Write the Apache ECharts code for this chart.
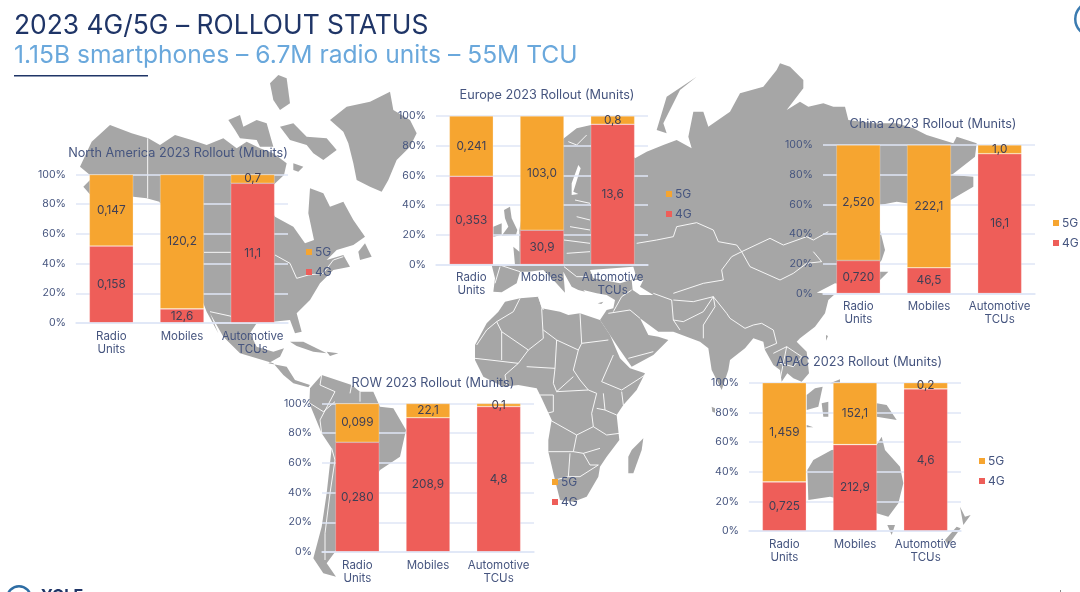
<!DOCTYPE html>
<html><head><meta charset="utf-8">
<style>html,body{margin:0;padding:0;background:#fff}#c{width:1080px;height:592px}</style>
<script src="https://cdn.jsdelivr.net/npm/echarts@6/dist/echarts.min.js"></script>
</head><body><div id="c"></div>
<script>
// ---------- chart data (Munits) ----------
const categories = ['Radio\nUnits', 'Mobiles', 'Automotive\nTCUs'];
const percentTicks = [0, 20, 40, 60, 80, 100];
const legendNames = ['5G', '4G'];
const mainTitle = '2023 4G/5G – ROLLOUT STATUS';
const subTitle = '1.15B smartphones – 6.7M radio units – 55M TCU';

const naTitle = 'North America 2023 Rollout (Munits)';
const na4G = [0.158, 12.6, 11.1];
const na5G = [0.147, 120.2, 0.7];
const na4GText = ['0,158', '12,6', '11,1'];
const na5GText = ['0,147', '120,2', '0,7'];

const euTitle = 'Europe 2023 Rollout (Munits)';
const eu4G = [0.353, 30.9, 13.6];
const eu5G = [0.241, 103.0, 0.8];
const eu4GText = ['0,353', '30,9', '13,6'];
const eu5GText = ['0,241', '103,0', '0,8'];

const cnTitle = 'China 2023 Rollout (Munits)';
const cn4G = [0.720, 46.5, 16.1];
const cn5G = [2.520, 222.1, 1.0];
const cn4GText = ['0,720', '46,5', '16,1'];
const cn5GText = ['2,520', '222,1', '1,0'];

const rowTitle = 'ROW 2023 Rollout (Munits)';
const row4G = [0.280, 208.9, 4.8];
const row5G = [0.099, 22.1, 0.1];
const row4GText = ['0,280', '208,9', '4,8'];
const row5GText = ['0,099', '22,1', '0,1'];

const apacTitle = 'APAC 2023 Rollout (Munits)';
const apac4G = [0.725, 212.9, 4.6];
const apac5G = [1.459, 152.1, 0.2];
const apac4GText = ['0,725', '212,9', '4,6'];
const apac5GText = ['1,459', '152,1', '0,2'];

// ---------- panel layout ----------
const panels = [
  {title: naTitle,   v4: na4G,   v5: na5G,   t4: na4GText,   t5: na5GText,   left: 76,  top: 174.5, tx: 178, ty: 147, lx: 306,  ly: 246},
  {title: euTitle,   v4: eu4G,   v5: eu5G,   t4: eu4GText,   t5: eu5GText,   left: 436, top: 116,   tx: 547, ty: 89,  lx: 666,  ly: 188},
  {title: cnTitle,   v4: cn4G,   v5: cn5G,   t4: cn4GText,   t5: cn5GText,   left: 823, top: 145,   tx: 933, ty: 118, lx: 1053, ly: 217},
  {title: rowTitle,  v4: row4G,  v5: row5G,  t4: row4GText,  t5: row5GText,  left: 322, top: 403.5, tx: 433, ty: 377, lx: 552,  ly: 476},
  {title: apacTitle, v4: apac4G, v5: apac5G, t4: apac4GText, t5: apac5GText, left: 749, top: 382.7, tx: 859, ty: 356, lx: 979,  ly: 455}
];
const panelW = 212, panelH = 148.5;

// ---------- decorative world map backdrop ----------
const at = (ox, oy, pts) => pts.map(p => [p[0] / 3 + ox, p[1] / 3 + oy]);
const Z7 = p => at(60, 70, p), Z8 = p => at(430, 70, p), Z9 = p => at(440, 280, p),
      Z4 = p => at(780, 0, p), Z10 = p => at(280, 360, p), Z11 = p => at(700, 270, p);

const land = [
  // North America
  Z7([[60,290],[95,215],[150,165],[215,190],[265,205],[300,225],[345,195],[395,210],[440,225],[490,205],[530,235],[560,215],[600,235],[640,250],[680,280],[672,315],[640,345],[620,400],[645,440],[700,470],[735,520],[762,510],[745,430],[750,355],[790,370],[810,410],[850,395],[880,450],[915,500],[880,525],[830,540],[800,570],[850,555],[870,590],[820,600],[780,640],[750,690],[710,730],[725,785],[705,790],[690,750],[640,755],[590,760],[570,790],[590,830],[640,845],[672,835],[660,860],[625,880],[680,890],[705,930],[750,945],[745,952],[700,940],[670,915],[640,880],[590,865],[540,850],[490,800],[450,730],[475,790],[440,725],[430,700],[380,560],[298,395],[260,385],[220,380],[140,380],[100,385],[70,350],[90,330],[90,315]]),
  Z7([[630,40],[655,15],[680,25],[690,100],[660,120],[640,90]]),
  Z7([[505,150],[540,135],[550,170],[590,150],[620,160],[640,230],[600,230],[590,210],[540,205],[525,180]]),
  Z7([[660,170],[700,160],[740,200],[800,205],[830,240],[790,270],[760,250],[740,225],[690,210]]),
  Z7([[700,280],[730,290],[715,305],[700,300]]),
  Z7([[810,150],[860,110],[930,95],[990,65],[1000,120],[1050,150],[1070,190],[1050,230],[1010,270],[985,330],[965,365],[930,350],[890,330],[880,280],[865,220],[850,185]]),
  Z7([[895,545],[915,520],[935,560],[900,570]]),
  Z7([[690,815],[730,815],[800,850],[760,845],[710,828]]),
  Z7([[800,845],[835,850],[810,858]]),
  // South America
  Z10([[90,85],[125,45],[170,60],[215,75],[240,95],[280,95],[300,140],[340,145],[378,210],[360,290],[300,330],[200,500],[165,576],[140,610],[168,650],[130,640],[100,595],[125,500],[140,400],[155,265],[125,220],[88,130]]),
  // Eurasia
  [].concat(
    Z8([[402,205],[440,175],[483,165],[560,190],[615,265],[650,245],[700,225],[740,210],[785,235],[775,200],[790,125],[820,125],[835,170],[900,125],[930,70],[1000,50],[1040,0]]),
    Z4([[0,190],[30,200],[70,240],[70,265],[20,330],[60,305],[85,320],[130,310],[160,320],[195,320],[205,360],[280,370],[350,370],[400,385],[440,405],[520,430],[530,410],[590,430],[585,470],[515,525],[580,530],[580,560],[512,600],[380,610],[350,605],[300,615],[300,690],[315,750],[305,780],[298,790],[300,815],[325,815],[300,840],[290,870]]),
    Z11([[405,40],[350,68],[405,72],[385,90],[375,130],[345,170],[300,205],[290,215],[320,245],[327,310],[305,335],[280,325],[262,310],[245,335],[240,300],[220,285],[195,240],[190,215],[160,205]]),
    Z9([[915,205],[870,240],[865,270],[845,330],[815,270],[805,205],[780,185],[700,155],[655,155],[600,115],[625,165],[655,170],[685,180],[640,225],[575,260],[540,210],[510,165],[480,120],[500,90],[520,85],[525,60],[500,45],[470,40],[430,30]]),
    Z8([[465,665],[445,660],[425,650],[400,605],[405,668],[375,635],[340,600],[295,605],[270,605],[260,640],[215,667],[190,665],[195,625],[185,585],[255,585],[250,530],[268,545],[268,480],[300,300]])
  ),
  Z8([[680,180],[710,80],[800,20],[750,60],[700,160],[710,190]]),
  Z8([[222,420],[240,410],[245,445],[262,480],[258,495],[215,497],[235,470],[225,445]]),
  Z8([[190,470],[215,460],[215,495],[190,500]]),
  // Africa
  Z9([[195,65],[240,55],[295,50],[305,85],[360,95],[385,105],[420,100],[480,120],[510,165],[540,235],[570,265],[615,280],[590,330],[550,375],[530,405],[538,480],[500,530],[480,560],[475,590],[440,650],[400,665],[360,660],[345,600],[325,515],[325,480],[335,420],[305,355],[290,325],[235,315],[190,320],[130,290],[105,240],[105,195],[140,130],[175,95]]),
  Z9([[610,475],[605,510],[580,580],[565,580],[565,530],[575,510]]),
  Z9([[815,380],[825,385],[825,398],[817,395]]),
  Z9([[473,70],[490,65],[484,72]]),
  // Oceania and islands
  Z11([[320,375],[345,355],[368,350],[355,410],[320,420]]),
  Z11([[365,400],[385,395],[385,440],[370,440]]),
  Z11([[390,340],[420,328],[420,345]]),
  Z11([[530,400],[560,405],[590,450],[530,440]]),
  Z11([[320,465],[340,472],[320,472]]),
  Z11([[322,600],[340,570],[395,540],[530,525],[545,500],[555,540],[600,590],[610,640],[595,700],[565,740],[530,730],[470,700],[390,680],[325,690]]),
  Z11([[562,765],[585,765],[575,795]]),
  Z11([[780,710],[795,740],[812,735],[790,765]]),
  Z11([[770,770],[782,775],[745,825],[735,810]]),
  Z11([[378,195],[384,198],[378,212]])
];
const water = [
  Z8([[425,340],[445,285],[452,295],[430,365],[445,372],[425,375]]),
  Z8([[480,600],[610,590],[620,625],[570,640],[490,625]]),
  Z9([[575,0],[610,0],[600,20],[640,45],[600,45],[578,30]])
];
const borders = [
  Z7([[432,547],[512,547]]), Z7([[645,555],[690,580],[710,625],[745,615],[790,610],[820,570],[850,560]]),
  Z7([[263,205],[263,385]]), Z7([[450,725],[510,738],[570,760]]),
  Z8([[620,520],[680,510],[730,500],[740,470],[800,458],[850,480],[865,515],[920,525],[935,545],[1020,505],[1060,525],[1130,500],[1150,510],[1195,485]]),
  Z8([[935,545],[960,590],[1050,630],[1090,610],[1130,580],[1175,575],[1150,545]]),
  Z8([[875,600],[905,560],[935,545]]), Z8([[875,600],[880,630],[820,640],[730,670]]),
  Z8([[415,215],[440,225],[470,195]]), Z8([[435,390],[480,400]]), Z8([[420,470],[480,480]]),
  Z8([[402,510],[480,520]]), Z8([[410,550],[480,545]]), Z8([[402,590],[440,620],[470,620]]),
  Z8([[440,440],[480,450]]), Z8([[210,590],[195,640]]), Z8([[200,582],[270,605]]),
  Z9([[700,60],[760,65],[820,50],[790,95],[730,125],[700,120]]), Z9([[640,40],[695,60],[700,120],[720,150]]),
  Z9([[820,50],[860,100],[870,115],[915,145],[940,135],[965,130],[1000,150],[1010,190],[975,205]]),
  Z9([[820,50],[825,80],[790,135],[790,175]]), Z9([[505,100],[570,90],[600,115]]), Z9([[520,95],[545,50],[575,30]]),
  Z9([[565,235],[640,215]]), Z9([[1000,220],[1040,200],[1085,230],[1060,260],[1020,250]]), Z9([[1040,200],[1020,300]]),
  Z9([[240,55],[220,95],[170,125],[185,155],[265,210],[310,175],[305,85]]), Z9([[170,125],[140,150],[110,195]]),
  Z9([[310,150],[350,180],[415,210],[425,190],[420,100]]), Z9([[425,190],[505,180]]),
  Z9([[350,180],[345,265],[340,310],[350,335]]), Z9([[415,210],[400,270],[420,300],[445,330],[470,340]]),
  Z9([[520,225],[485,305],[545,330],[615,285]]), Z9([[265,210],[235,250],[150,240],[105,235]]),
  Z9([[185,155],[185,240]]), Z9([[235,250],[195,285],[200,315]]), Z9([[260,260],[345,265]]),
  Z9([[350,335],[400,290]]), Z9([[350,335],[445,330]]), Z9([[470,340],[455,400],[460,440],[410,465],[330,420]]),
  Z9([[490,340],[495,390],[470,385]]), Z9([[545,335],[550,375]]), Z9([[495,390],[530,405]]),
  Z9([[460,440],[500,465],[538,460]]), Z9([[410,465],[400,515],[325,515]]), Z9([[400,515],[430,520],[480,505]]),
  Z9([[390,520],[385,590],[345,600]]), Z9([[430,520],[450,555],[475,555]]), Z9([[385,590],[420,590],[475,555]]),
  Z9([[295,50],[310,90]]), Z9([[300,345],[340,345],[340,395],[320,400]]),
  Z10([[125,45],[120,75],[165,95],[120,180],[125,220]]), Z10([[90,130],[130,155],[165,125]]),
  Z10([[155,265],[165,300],[150,400],[135,520],[135,600]]), Z10([[215,75],[210,100]]), Z10([[240,95],[240,125]])
];

// ---------- helpers ----------
const axisText = '#46557f', valueText = '#3f3f55', gridLine = '#dfe6f6';
const ORANGE = '#f6a530', RED = '#ee5e59';
const share = (a, b) => a.map((v, i) => v / (v + b[i]));

const grids = [], xAxes = [], yAxes = [], series = [], titles = [], legends = [];
titles.push({text: mainTitle, left: 14, top: 13, padding: 0, textStyle: {fontFamily: 'Inter', fontWeight: 400, fontSize: 26.4, color: '#1f3567'}});
titles.push({text: subTitle, left: 14, top: 43, padding: 0, textStyle: {fontFamily: 'Inter', fontWeight: 400, fontSize: 24.6, color: '#6aa8dc'}});

panels.forEach((p, i) => {
  grids.push({left: p.left, top: p.top, width: panelW, height: panelH});
  xAxes.push({type: 'category', gridIndex: i, data: categories, z: 3,
    axisLine: {lineStyle: {color: gridLine, width: 1.5}}, axisTick: {show: false},
    axisLabel: {interval: 0, color: axisText, fontFamily: 'Inter', fontSize: 11.5, lineHeight: 13, margin: 7}});
  yAxes.push({type: 'value', gridIndex: i, min: 0, max: 100, interval: 20,
    axisLine: {show: false}, axisTick: {show: false},
    axisLabel: {color: axisText, fontFamily: 'Inter', fontSize: 10.6, margin: 10, formatter: v => percentTicks.includes(v) ? v + '%' : ''},
    splitLine: {lineStyle: {color: gridLine, width: 1.5}}});
  const s4 = share(p.v4, p.v5).map(v => v * 100), s5 = share(p.v5, p.v4).map(v => v * 100);
  const mk = (name, data, color, text) => ({
    name, type: 'bar', stack: 'p' + i, xAxisIndex: i, yAxisIndex: i, data, barWidth: 44,
    itemStyle: {color, borderColor: 'rgba(255,255,255,0.45)', borderWidth: 0.6},
    label: {show: true, position: 'inside', color: valueText, fontFamily: 'Inter', fontSize: 11.8,
            formatter: d => text[d.dataIndex]}
  });
  series.push(mk('4G', s4, RED, p.t4), mk('5G', s5, ORANGE, p.t5));
  titles.push({text: p.title, left: p.tx, top: p.ty, padding: 0, textAlign: 'center',
    textStyle: {fontFamily: 'Inter', fontWeight: 400, fontSize: 12.7, color: axisText}});
  legends.push({data: legendNames, left: p.lx, top: p.ly, orient: 'vertical', icon: 'rect', itemWidth: 6, itemHeight: 6,
    itemGap: 8, selectedMode: false, padding: 0, itemStyle: {borderWidth: 0},
    textStyle: {fontFamily: 'Inter', fontSize: 12, color: axisText, padding: [0, 0, 0, -2]}});
});

const graphic = [];
land.forEach(pts => graphic.push({type: 'polygon', silent: true, z: -5, shape: {points: pts}, style: {fill: '#a6a6a6'}}));
water.forEach(pts => graphic.push({type: 'polygon', silent: true, z: -4, shape: {points: pts}, style: {fill: '#fff'}}));
borders.forEach(pts => graphic.push({type: 'polyline', silent: true, z: -3, shape: {points: pts}, style: {stroke: '#fff', lineWidth: 0.9, fill: null}}));
graphic.push({type: 'rect', silent: true, z: 5, shape: {x: 14, y: 75, width: 134, height: 1.6}, style: {fill: '#1f3567'}});
graphic.push({type: 'ring', silent: true, z: 5, shape: {cx: 1092, cy: 19, r: 18, r0: 15.5}, style: {fill: '#3b7bb0'}});
graphic.push({type: 'ring', silent: true, z: 5, shape: {cx: 19, cy: 598, r: 13, r0: 10.5}, style: {fill: '#2e6da4'}});
graphic.push({type: 'rect', silent: true, z: 5, shape: {x: 1060, y: 590, width: 1, height: 2}, style: {fill: '#8a8a8a'}});
graphic.push({type: 'text', silent: true, z: 5, style: {x: 41, y: 588, text: 'YOLE', fontFamily: 'Inter', fontWeight: 700, fontSize: 16, fill: '#1f3567'}});

const chart = echarts.init(document.getElementById('c'), null, {renderer: 'canvas'});
chart.setOption({
  animation: false, backgroundColor: '#fff',
  title: titles, legend: legends, grid: grids, xAxis: xAxes, yAxis: yAxes, series, graphic
});
</script></body></html>
